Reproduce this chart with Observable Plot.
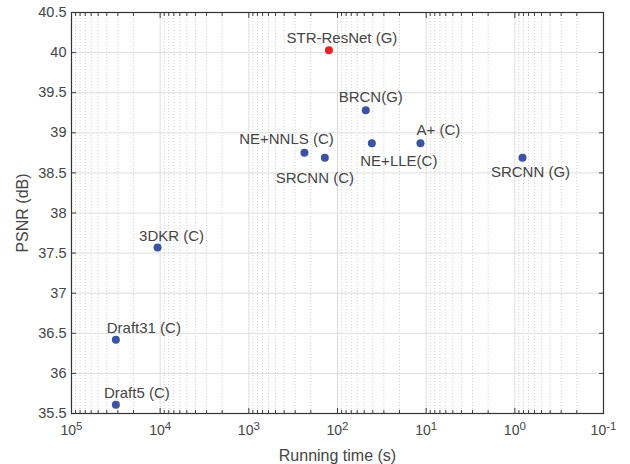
<!DOCTYPE html>
<html><head><meta charset="utf-8">
<script src="https://cdn.jsdelivr.net/npm/d3@7"></script>
<script src="https://cdn.jsdelivr.net/npm/@observablehq/plot@0.6"></script>
<style>
body{margin:0;background:#fff;}
#chart svg{font-family:"Liberation Sans", Arial, sans-serif;}
</style>
</head><body><div id="chart"></div>
<script>
// ---- data ----
const methods = ["STR-ResNet (G)", "BRCN(G)", "NE+LLE(C)", "A+ (C)", "SRCNN (G)", "SRCNN (C)", "NE+NNLS (C)", "3DKR (C)", "Draft31 (C)", "Draft5 (C)"];
const runTimes = [125, 48, 41, 11.6, 0.82, 139, 236, 10700, 31600, 31600];
const psnrs = [40.03, 39.28, 38.87, 38.87, 38.69, 38.69, 38.75, 37.57, 36.42, 35.61];
const isOurs = [true, false, false, false, false, false, false, false, false, false];
const xTickValues = [1e5, 1e4, 1e3, 1e2, 1e1, 1e0, 1e-1];
const xTickExponents = ["5", "4", "3", "2", "1", "0", "-1"];
const yTickValues = [35.5, 36, 36.5, 37, 37.5, 38, 38.5, 39, 39.5, 40, 40.5];

// ---- layout for labels (pixel offsets from point) ----
const labelOffsets = {
  "STR-ResNet (G)": [13, -12], "BRCN(G)": [5, -13], "NE+LLE(C)": [27, 18],
  "A+ (C)": [18, -13], "SRCNN (G)": [8, 15], "SRCNN (C)": [-10, 21],
  "NE+NNLS (C)": [-18, -14], "3DKR (C)": [14, -11], "Draft31 (C)": [28, -12],
  "Draft5 (C)": [21, -11]
};

const data = methods.map((m, i) => ({method: m, time: runTimes[i], psnr: psnrs[i], ours: isOurs[i]}));
const minorTicks = [];
for (let e = -1; e < 5; e++) for (let k = 2; k <= 9; k++) minorTicks.push(k * Math.pow(10, e));

const axisColor = "#333333";
const tickColor = "#404040";
const gridColor = "#dedede";
const textColor = "#454545";
const blue = "#3a53a4", red = "#ec2227";

const labelMarks = data.map(d => Plot.text([d], {
  x: "time", y: "psnr", text: "method",
  dx: labelOffsets[d.method][0], dy: labelOffsets[d.method][1],
  fontSize: 15, fill: textColor
}));

const chart = Plot.plot({
  width: 630, height: 464,
  marginLeft: 71, marginRight: 27, marginTop: 12, marginBottom: 51,
  style: {fontSize: "14px", color: axisColor, background: "#fff"},
  x: {type: "log", domain: [1e5, 1e-1]},
  y: {domain: [35.5, 40.5]},
  marks: [
    Plot.ruleX(minorTicks, {stroke: "#c8c8c8", strokeDasharray: "1.2,1.8", strokeWidth: 0.8}),
    Plot.ruleX(xTickValues, {stroke: gridColor}),
    Plot.ruleY(yTickValues, {stroke: gridColor}),
    // ticks (inward)
    Plot.axisX({anchor: "bottom", ticks: xTickValues, tickSize: -5, fill: "none", stroke: tickColor, label: null}),
    Plot.axisX({anchor: "top", ticks: xTickValues, tickSize: -5, fill: "none", stroke: tickColor, label: null}),
    Plot.axisX({anchor: "bottom", ticks: minorTicks, tickSize: -3, fill: "none", stroke: tickColor, label: null}),
    Plot.axisX({anchor: "top", ticks: minorTicks, tickSize: -3, fill: "none", stroke: tickColor, label: null}),
    Plot.axisY({anchor: "left", ticks: yTickValues, tickSize: -5, fill: "none", stroke: tickColor, label: null}),
    Plot.axisY({anchor: "right", ticks: yTickValues, tickSize: -5, fill: "none", stroke: tickColor, label: null}),
    // tick labels + axis labels
    Plot.axisX({anchor: "bottom", ticks: xTickValues, tickSize: 0, tickPadding: 12,
      tickFormat: d => "10" + xTickExponents[xTickValues.indexOf(d)], fontSize: 14, fill: textColor,
      label: "Running time (s)", labelAnchor: "center", labelArrow: "none", labelOffset: 47}),
    Plot.axisY({anchor: "left", ticks: yTickValues, tickSize: 0, tickPadding: 5,
      tickFormat: d => String(d), fontSize: 14.5, fill: textColor,
      label: "PSNR (dB)", labelAnchor: "center", labelArrow: "none", labelOffset: 55}),
    Plot.frame({stroke: axisColor, strokeWidth: 1.2}),
    Plot.dot(data, {x: "time", y: "psnr", r: 4, fill: d => d.ours ? red : blue, stroke: "none"}),
    ...labelMarks
  ]
});

// axis label font sizes
chart.querySelectorAll('g[aria-label="x-axis label"], g[aria-label="y-axis label"]')
  .forEach(g => g.setAttribute("font-size", "16"));

// superscript exponents on x tick labels
chart.querySelectorAll('g[aria-label="x-axis tick label"] text').forEach(t => {
  const s = t.textContent;
  const exp = s.slice(2);
  t.textContent = "";
  const base = document.createElementNS("http://www.w3.org/2000/svg", "tspan");
  base.textContent = "10";
  const sup = document.createElementNS("http://www.w3.org/2000/svg", "tspan");
  sup.textContent = exp;
  sup.setAttribute("dy", "-5");
  sup.setAttribute("font-size", "11.5");
  t.append(base, sup);
});
document.getElementById("chart").append(chart);
</script>
</body></html>
